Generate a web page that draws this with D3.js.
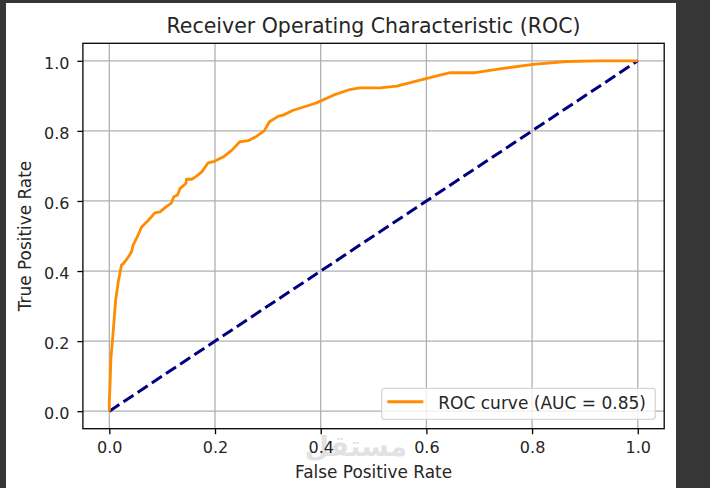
<!DOCTYPE html>
<html>
<head>
<meta charset="utf-8">
<script src="https://cdn.jsdelivr.net/npm/d3@7/dist/d3.min.js"></script>
<style>
  html, body { margin: 0; padding: 0; background: #363636; }
  svg { display: block; }
  text { font-family: "DejaVu Sans", sans-serif; fill: #262626; }
</style>
</head>
<body>
<svg id="chart" width="710" height="488"></svg>
<script>
// ROC curve data
const fpr = [0, 0.000, 0.001, 0.003, 0.006, 0.009, 0.012, 0.017, 0.023, 0.027, 0.036, 0.042, 0.045, 0.053, 0.058, 0.061, 0.074, 0.086, 0.096, 0.107, 0.117, 0.122, 0.129, 0.134, 0.145, 0.146, 0.156, 0.165, 0.175, 0.187, 0.197, 0.216, 0.232, 0.247, 0.263, 0.279, 0.293, 0.303, 0.320, 0.329, 0.348, 0.380, 0.392, 0.424, 0.455, 0.474, 0.512, 0.544, 0.601, 0.645, 0.692, 0.739, 0.802, 0.865, 0.928, 1.0];
const tpr = [0, 0.030, 0.060, 0.150, 0.203, 0.260, 0.317, 0.370, 0.417, 0.422, 0.440, 0.455, 0.474, 0.498, 0.515, 0.526, 0.545, 0.566, 0.569, 0.583, 0.593, 0.612, 0.617, 0.636, 0.650, 0.662, 0.662, 0.671, 0.683, 0.709, 0.712, 0.726, 0.745, 0.769, 0.772, 0.785, 0.800, 0.826, 0.842, 0.845, 0.859, 0.874, 0.880, 0.902, 0.918, 0.923, 0.923, 0.928, 0.950, 0.966, 0.966, 0.977, 0.990, 0.998, 1.0, 1.0];
const chanceX = [0, 1];
const chanceY = [0, 1];
const xTicks = [0.0, 0.2, 0.4, 0.6, 0.8, 1.0];
const yTicks = [0.0, 0.2, 0.4, 0.6, 0.8, 1.0];
const titleText = "Receiver Operating Characteristic (ROC)";
const xLabel = "False Positive Rate";
const yLabel = "True Positive Rate";
const legendLabel = "ROC curve (AUC = 0.85)";
const watermarkText = "مستقل";

const svg = d3.select("#chart");
// white canvas (with dark surround like the screenshot)
svg.append("rect").attr("x", 6).attr("y", 3).attr("width", 670).attr("height", 485).attr("fill", "#ffffff");

const L = 82.9, R = 664.2, T = 43.3, B = 428.7;
const x = d3.scaleLinear().domain([-0.05, 1.05]).range([L, R]);
const y = d3.scaleLinear().domain([-0.05, 1.05]).range([B, T]);

// watermark (faint, behind everything)
svg.append("text").attr("x", 356).attr("y", 456).attr("text-anchor", "middle")
  .attr("font-size", 28).attr("font-weight", "bold")
  .style("fill", "#e2e2e2").text(watermarkText);

// grid
const grid = svg.append("g");
grid.selectAll(".gx").data(xTicks).join("line")
  .attr("x1", d => x(d)).attr("x2", d => x(d)).attr("y1", T).attr("y2", B)
  .attr("stroke", "#b0b0b0").attr("stroke-width", 1.3);
grid.selectAll(".gy").data(yTicks).join("line")
  .attr("y1", d => y(d)).attr("y2", d => y(d)).attr("x1", L).attr("x2", R)
  .attr("stroke", "#b0b0b0").attr("stroke-width", 1.3);

// lines
const line = d3.line().x(d => x(d[0])).y(d => y(d[1]));
svg.append("path")
  .datum(chanceX.map((v, i) => [v, chanceY[i]]))
  .attr("d", line).attr("fill", "none")
  .attr("stroke", "#000080").attr("stroke-width", 3)
  .attr("stroke-dasharray", "12,5");
svg.append("path")
  .datum(fpr.map((v, i) => [v, tpr[i]]))
  .attr("d", line).attr("fill", "none")
  .attr("stroke", "#ff8c00").attr("stroke-width", 2.8)
  .attr("stroke-linejoin", "round").attr("stroke-linecap", "butt");

// axes
const xAxis = d3.axisBottom(x).tickValues(xTicks).tickFormat(d3.format(".1f")).tickSize(5.5).tickPadding(7.3);
const yAxis = d3.axisLeft(y).tickValues(yTicks).tickFormat(d3.format(".1f")).tickSize(5.5).tickPadding(8);
const gx = svg.append("g").attr("transform", `translate(0,${B})`).call(xAxis);
const gy = svg.append("g").attr("transform", `translate(${L},0)`).call(yAxis);
[gx, gy].forEach(g => {
  g.select(".domain").remove();
  g.selectAll(".tick line").attr("stroke", "#000").attr("stroke-width", 1.3);
  g.selectAll(".tick text").attr("font-size", 16).attr("fill", "#262626")
    .attr("font-family", "DejaVu Sans, sans-serif");
});
gy.selectAll(".tick text").attr("dy", "0.46em");

// frame
svg.append("rect").attr("x", L).attr("y", T).attr("width", R - L).attr("height", B - T)
  .attr("fill", "none").attr("stroke", "#000").attr("stroke-width", 1.3);

// title & labels
svg.append("text").attr("x", (L + R) / 2).attr("y", 33).attr("text-anchor", "middle")
  .attr("font-size", 20.5).text(titleText);
svg.append("text").attr("x", (L + R) / 2).attr("y", 478).attr("text-anchor", "middle")
  .attr("font-size", 16.9).text(xLabel);
svg.append("text").attr("transform", `translate(31,${(T + B) / 2}) rotate(-90)`)
  .attr("text-anchor", "middle").attr("font-size", 16.9).text(yLabel);

// legend
const lg = svg.append("g");
lg.append("rect").attr("x", 381.7).attr("y", 388.3).attr("width", 273.6).attr("height", 31)
  .attr("rx", 3).attr("fill", "#ffffff").attr("fill-opacity", 0.8)
  .attr("stroke", "#d6d6d6").attr("stroke-width", 1.3);
lg.append("line").attr("x1", 387.3).attr("x2", 423.3).attr("y1", 401.7).attr("y2", 401.7)
  .attr("stroke", "#ff8c00").attr("stroke-width", 3);
lg.append("text").attr("x", 438.3).attr("y", 409).attr("font-size", 17).text(legendLabel);
</script>
</body>
</html>
